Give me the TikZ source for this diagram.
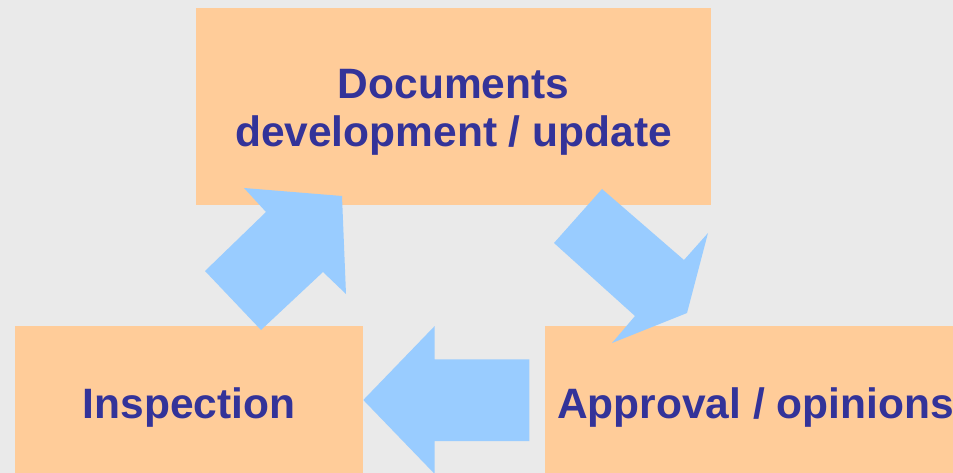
\documentclass[tikz,border=0pt]{standalone}
\usepackage{fontspec}
\setmainfont{Liberation Sans}
\definecolor{bgcol}{HTML}{EAEAEA}
\definecolor{boxcol}{HTML}{FFCC99}
\definecolor{arrowcol}{HTML}{99CCFF}
\definecolor{textcol}{HTML}{333399}
\begin{document}
\begin{tikzpicture}[x=1pt, y=-1pt]

\tikzstyle{box}=[rectangle, fill=boxcol, draw=none, inner sep=0pt]
\tikzstyle{txt}=[text=textcol, inner sep=0pt, align=center, font=\fontsize{42.5}{48}\selectfont\bfseries]
\tikzstyle{blockarrow}=[fill=arrowcol, draw=none]

% background and page size
\fill [bgcol] (0,0) rectangle (953,473);
\useasboundingbox (0,0) rectangle (953,473);

\node (docs) [box, minimum width=515pt, minimum height=197pt] at (453.5,106.5) {};
\node (insp) [box, minimum width=348pt, minimum height=147pt] at (189,399.5) {};
\node (appr) [box, minimum width=408pt, minimum height=147pt] at (749,399.5) {};

\node (docstxt) [txt, anchor=north] at (453.5,69.5) {Documents\\development / update};
\node (insptxt) [txt, anchor=base] at (189,418) {Inspection};
\node (apprtxt) [txt, anchor=base west] at (557,418) {Approval / opinions};

% block arrows
\fill [blockarrow] (261,330) -- (205,271) -- (266,212) -- (244,188) -- (342,196) -- (346,294) -- (323,272) -- cycle;
\fill [blockarrow] (602,189) -- (684,260) -- (708,233) -- (687,313) -- (612,343) -- (635,316) -- (554,243) -- cycle;
\fill [blockarrow] (529.3,359.3) -- (434.7,359.3) -- (434.7,326) -- (363.3,400) -- (434.7,474) -- (434.7,441) -- (529.3,441) -- cycle;

\end{tikzpicture}
\end{document}
